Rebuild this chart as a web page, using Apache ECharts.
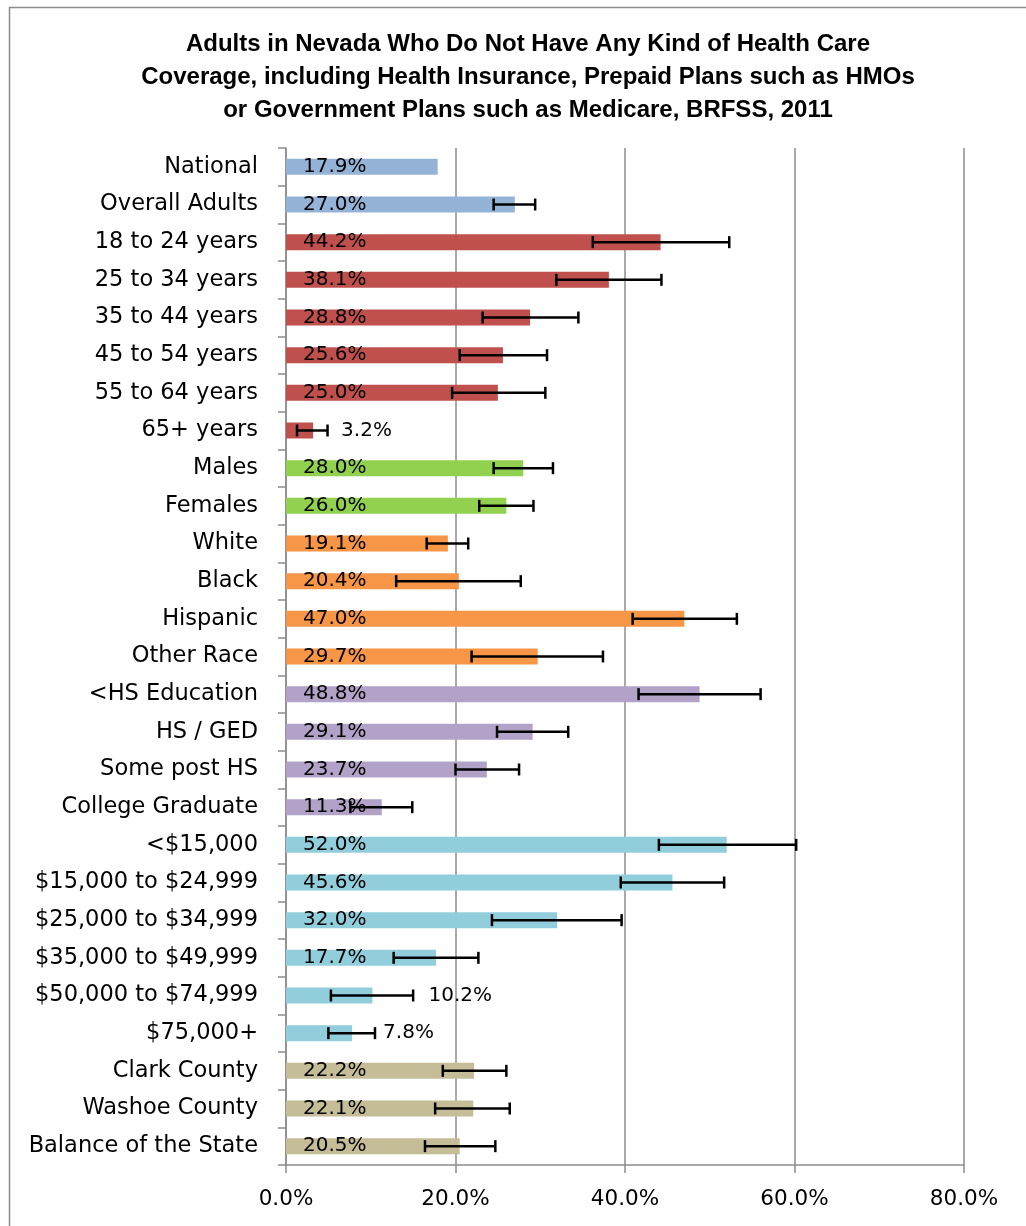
<!DOCTYPE html>
<html>
<head>
<meta charset="utf-8">
<script src="https://cdn.jsdelivr.net/npm/echarts@6/dist/echarts.min.js"></script>
<style>
html, body { margin: 0; padding: 0; background: #fff; }
#chart { width: 1026px; height: 1226px; }
</style>
</head>
<body>
<div id="chart"></div>
<script>
var categories = [
    "National", "Overall Adults",
    "18 to 24 years", "25 to 34 years", "35 to 44 years", "45 to 54 years", "55 to 64 years", "65+ years",
    "Males", "Females",
    "White", "Black", "Hispanic", "Other Race",
    "<HS Education", "HS / GED", "Some post HS", "College Graduate",
    "<$15,000", "$15,000 to $24,999", "$25,000 to $34,999", "$35,000 to $49,999", "$50,000 to $74,999", "$75,000+",
    "Clark County", "Washoe County", "Balance of the State"
];
var groups = [
    "total", "total",
    "age", "age", "age", "age", "age", "age",
    "sex", "sex",
    "race", "race", "race", "race",
    "edu", "edu", "edu", "edu",
    "income", "income", "income", "income", "income", "income",
    "county", "county", "county"
];
var values = [17.9, 27.0, 44.2, 38.1, 28.8, 25.6, 25.0, 3.2, 28.0, 26.0, 19.1, 20.4, 47.0, 29.7,
    48.8, 29.1, 23.7, 11.3, 52.0, 45.6, 32.0, 17.7, 10.2, 7.8, 22.2, 22.1, 20.5];
var errLow = [null, 24.5, 36.2, 31.9, 23.2, 20.5, 19.6, 1.3, 24.5, 22.8, 16.6, 13.0, 40.9, 21.9,
    41.6, 24.9, 20.0, 7.6, 44.0, 39.5, 24.3, 12.7, 5.3, 5.0, 18.5, 17.6, 16.4];
var errHigh = [null, 29.4, 52.3, 44.3, 34.5, 30.8, 30.6, 4.9, 31.5, 29.2, 21.5, 27.7, 53.2, 37.4,
    56.0, 33.3, 27.5, 14.9, 60.2, 51.7, 39.6, 22.7, 15.0, 10.5, 26.0, 26.4, 24.7];
var xTicks = [0, 20, 40, 60, 80];

var groupColors = {
    total: "#95B3D7",
    age: "#C0504D",
    sex: "#92D050",
    race: "#F79646",
    edu: "#B2A2C7",
    income: "#92CDDC",
    county: "#C4BD97"
};
// labels Excel pushed outside the bar (distance from bar end)
var outsideLabel = { "65+ years": 28, "$50,000 to $74,999": 56, "$75,000+": 31 };

var font = "DejaVu Sans";
var chart = echarts.init(document.getElementById("chart"));

var barData = values.map(function (v, i) {
    var item = { value: v, itemStyle: { color: groupColors[groups[i]] } };
    if (outsideLabel[categories[i]] !== undefined) {
        item.label = { position: "right", distance: outsideLabel[categories[i]] };
    }
    return item;
});

var errData = [];
categories.forEach(function (c, i) {
    if (errLow[i] != null) errData.push([i, errLow[i], errHigh[i]]);
});

var option = {
    animation: false,
    title: {
        text: "Adults in Nevada Who Do Not Have Any Kind of Health Care\nCoverage, including Health Insurance, Prepaid Plans such as HMOs\nor Government Plans such as Medicare, BRFSS, 2011",
        left: 523,
        textAlign: "center",
        top: 23,
        textStyle: {
            fontFamily: "Liberation Sans",
            fontWeight: "bold",
            fontSize: 24,
            lineHeight: 33,
            color: "#000"
        }
    },
    graphic: [{
        type: "rect",
        shape: { x: 9.5, y: 7.5, width: 1100, height: 1400 },
        style: { fill: null, stroke: "#8c8c8c", lineWidth: 1.5 },
        silent: true
    }],
    grid: { left: 286, right: 62, top: 148, bottom: 61 },
    xAxis: {
        type: "value",
        min: 0,
        max: 80,
        interval: 20,
        axisLine: { show: true, lineStyle: { color: "#8c8c8c", width: 1.5 } },
        axisTick: { show: true, length: 8, lineStyle: { color: "#8c8c8c", width: 1.5 } },
        splitLine: { show: true, lineStyle: { color: "#8c8c8c", width: 1.5 } },
        axisLabel: {
            margin: 23,
            fontFamily: font,
            fontSize: 21.5,
            color: "#000",
            formatter: function (v) { return xTicks.indexOf(v) >= 0 ? v.toFixed(1) + "%" : ""; }
        }
    },
    yAxis: {
        type: "category",
        data: categories,
        inverse: true,
        axisLine: { show: true, lineStyle: { color: "#8c8c8c", width: 1.5 } },
        axisTick: { show: true, length: 8, lineStyle: { color: "#8c8c8c", width: 1.5 } },
        axisLabel: {
            margin: 28,
            fontFamily: font,
            fontSize: 22.5,
            color: "#000",
            interval: 0
        }
    },
    series: [
        {
            type: "bar",
            data: barData,
            barWidth: 16,
            label: {
                show: true,
                position: "insideLeft",
                distance: 17,
                fontFamily: font,
                fontSize: 20,
                color: "#000",
                formatter: function (p) { return p.value.toFixed(1) + "%"; }
            },
            z: 2
        },
        {
            type: "custom",
            data: errData,
            encode: { x: [1, 2], y: 0 },
            z: 3,
            renderItem: function (params, api) {
                var lo = api.coord([api.value(1), api.value(0)]);
                var hi = api.coord([api.value(2), api.value(0)]);
                var h = 6;
                var st = { stroke: "#000", lineWidth: 2.5 };
                return {
                    type: "group",
                    children: [
                        { type: "line", shape: { x1: lo[0], y1: lo[1], x2: hi[0], y2: hi[1] }, style: st },
                        { type: "line", shape: { x1: lo[0], y1: lo[1] - h, x2: lo[0], y2: lo[1] + h }, style: st },
                        { type: "line", shape: { x1: hi[0], y1: hi[1] - h, x2: hi[0], y2: hi[1] + h }, style: st }
                    ]
                };
            }
        }
    ]
};

chart.setOption(option);
</script>
</body>
</html>
